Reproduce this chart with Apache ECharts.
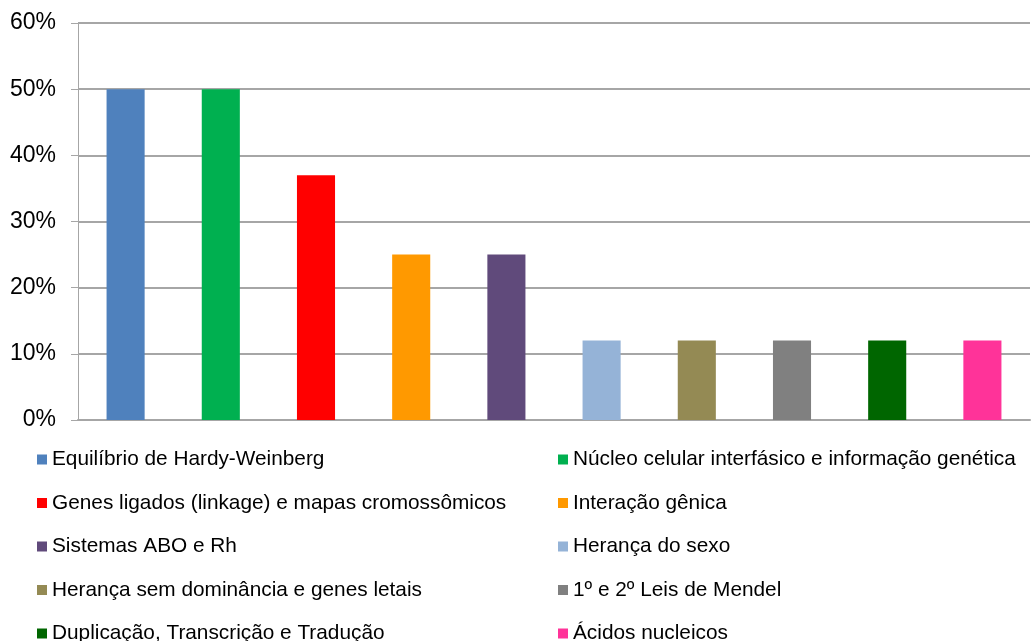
<!DOCTYPE html>
<html>
<head>
<meta charset="utf-8">
<script src="https://cdn.jsdelivr.net/npm/echarts@6/dist/echarts.min.js"></script>
<style>
  html, body { margin: 0; padding: 0; background: #fff; }
  #main { width: 1033px; height: 641px; }
</style>
</head>
<body>
<div id="main"></div>
<script>
const categories = [
  'Equilíbrio de Hardy-Weinberg',
  'Núcleo celular interfásico e informação genética',
  'Genes ligados (linkage) e mapas cromossômicos',
  'Interação gênica',
  'Sistemas ABO e Rh',
  'Herança do sexo',
  'Herança sem dominância e genes letais',
  '1º e 2º Leis de Mendel',
  'Duplicação, Transcrição e Tradução',
  'Ácidos nucleicos'
]
const values = [50, 50, 37, 25, 25, 12, 12, 12, 12, 12]
const colors = ['#4F81BD', '#00B050', '#FF0000', '#FF9900', '#604A7B',
  '#95B3D7', '#948A54', '#808080', '#006600', '#FF3399']

const myChart = echarts.init(document.getElementById('main'))

// one series per category so each gets its own legend entry
const series = categories.map((name, i) => ({
  name: name,
  type: 'bar',
  stack: 'all',
  barWidth: '40%',
  itemStyle: { color: colors[i] },
  data: values.map((v, j) => (j === i ? v : null))
}))

const legendBase = {
  orient: 'vertical',
  icon: 'rect',
  itemWidth: 10,
  itemHeight: 10,
  itemGap: 23,
  height: 260,
  textStyle: { fontFamily: 'Liberation Sans, Arial', fontSize: 20.8, color: '#000', lineHeight: 20 }
}

myChart.setOption({
  animation: false,
  grid: { left: 78, right: 3, top: 23, bottom: 221 },
  legend: [
    Object.assign({}, legendBase, { left: 32, top: 444, itemGap: 22.5, data: categories.filter((c, i) => i % 2 === 0) }),
    Object.assign({}, legendBase, { left: 553, top: 444, itemGap: 22.5, data: categories.filter((c, i) => i % 2 === 1) })
  ],
  xAxis: {
    type: 'category',
    data: categories,
    axisLabel: { show: false },
    axisTick: { show: false },
    axisLine: { lineStyle: { color: '#A6A6A6', width: 2 } }
  },
  yAxis: {
    type: 'value',
    min: 0,
    max: 60,
    interval: 10,
    axisLabel: {
      formatter: '{value}%',
      fontFamily: 'Liberation Sans, Arial',
      fontSize: 23,
      color: '#000',
      margin: 22
    },
    axisLine: { show: true, lineStyle: { color: '#A6A6A6', width: 1 } },
    axisTick: { show: true, length: 7, lineStyle: { color: '#A6A6A6' } },
    splitLine: { lineStyle: { color: '#A6A6A6', width: 2 } }
  },
  series: series
})
</script>
</body>
</html>
